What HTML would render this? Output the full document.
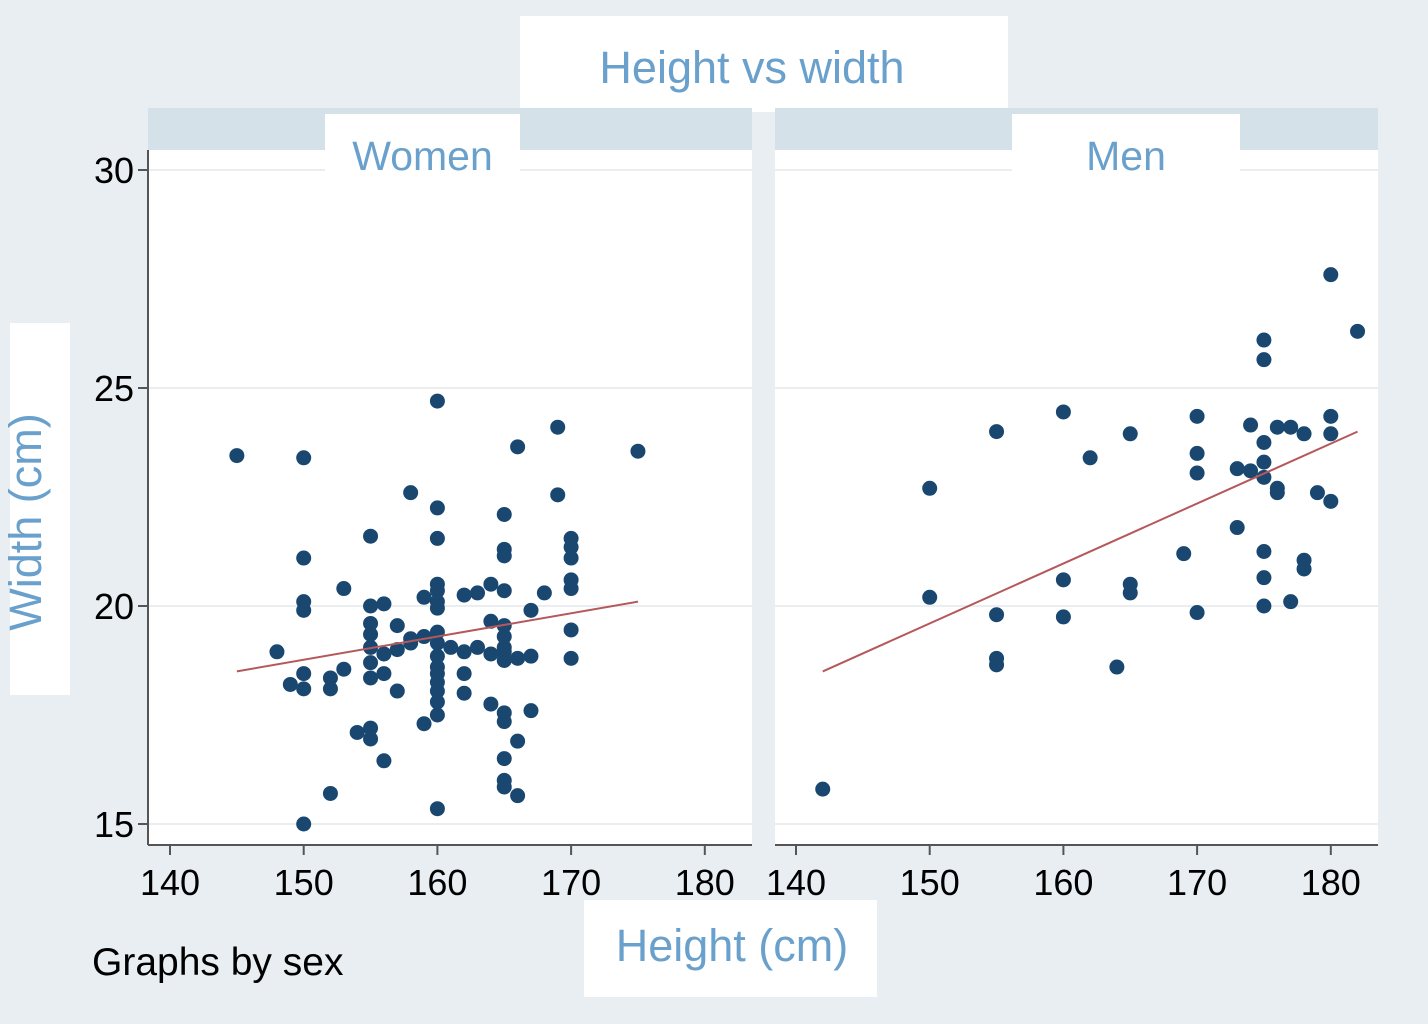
<!DOCTYPE html>
<html><head><meta charset="utf-8"><style>
body{margin:0;background:#e8eef2;}
svg{display:block;font-family:"Liberation Sans",sans-serif;}
</style></head><body>
<svg id="chart" width="1428" height="1024">
<rect x="0" y="0" width="1428" height="1024" fill="#e8eef2"/>
<rect x="520" y="16" width="488" height="96" fill="#fff"/>
<text x="752" y="83" font-size="45" fill="#6aa0cc" text-anchor="middle">Height vs width</text>
<rect x="10" y="323" width="60" height="372" fill="#fff"/>
<text transform="translate(41,522) rotate(-90)" font-size="45" fill="#6aa0cc" text-anchor="middle">Width (cm)</text>
<rect x="584" y="900" width="293" height="97" fill="#fff"/>
<text x="732" y="961" font-size="45" fill="#6aa0cc" text-anchor="middle">Height (cm)</text>
<text x="92" y="975" font-size="39" fill="#000">Graphs by sex</text>
<g id="panels"></g>
</svg>
<script>
const yTicks=[15,20,25,30];
const xTicks=[140,150,160,170,180];
const womenX=[145,150,160,169,166,175,158,169,160,165,155,160,165,165,170,170,170,150,153,160,160,164,165,168,170,170,150,150,155,156,159,160,160,162,163,167,164,165,165,165,170,155,155,155,157,158,159,160,160,156,155,157,158,161,162,163,164,165,165,166,167,170,160,160,160,160,148,150,150,149,152,152,153,155,156,157,160,160,162,162,160,159,164,165,165,167,154,155,155,166,156,165,165,165,166,152,160,150];
const womenY=[23.45,23.4,24.7,24.1,23.65,23.55,22.6,22.55,22.25,22.1,21.6,21.55,21.3,21.15,21.55,21.35,21.1,21.1,20.4,20.5,20.35,20.5,20.35,20.3,20.6,20.4,20.1,19.9,20.0,20.05,20.2,20.1,19.95,20.25,20.3,19.9,19.65,19.55,19.3,19.05,19.45,19.6,19.35,19.05,19.55,19.25,19.3,19.4,19.15,18.9,18.7,19.0,19.15,19.05,18.95,19.05,18.9,18.95,18.75,18.8,18.85,18.8,18.85,18.6,18.45,18.25,18.95,18.45,18.1,18.2,18.35,18.1,18.55,18.35,18.45,18.05,18.05,17.8,18.45,18.0,17.5,17.3,17.75,17.55,17.35,17.6,17.1,17.2,16.95,16.9,16.45,16.5,16.0,15.85,15.65,15.7,15.35,15.0];
const menX=[142,150,150,155,155,155,155,160,160,160,162,164,165,165,165,169,170,170,170,170,173,173,174,174,175,175,175,175,175,175,175,175,176,176,176,177,177,178,178,178,179,180,180,180,180,182];
const menY=[15.8,22.7,20.2,24.0,19.8,18.8,18.65,24.45,20.6,19.75,23.4,18.6,23.95,20.5,20.3,21.2,24.35,23.5,23.05,19.85,21.8,23.15,24.15,23.1,26.1,25.65,23.75,23.3,22.95,21.25,20.65,20.0,24.1,22.7,22.6,24.1,20.1,23.95,21.05,20.85,22.6,27.6,24.35,23.95,22.4,26.3];
const womenFitX=[145,175], womenFitY=[18.5,20.1];
const menFitX=[142,182], menFitY=[18.5,24.0];
const NS="http://www.w3.org/2000/svg";
const g=document.getElementById('panels');
function el(t,a,p){const e=document.createElementNS(NS,t);for(const k in a)e.setAttribute(k,a[k]);(p||g).appendChild(e);return e;}
const yScale=v=>170+(30-v)*43.6;
function panel(name,left,right,x140,label,labelBox,xs,ys,fx,fy){
  const xScale=v=>x140+(v-140)*13.37;
  const grp=el('g',{});
  
  
  const strip=el('rect',{x:left,y:108,width:right-left,height:42,fill:'#d5e1e9'},grp);
  
  
  const bg=el('rect',{x:left,y:150,width:right-left,height:695,fill:'#fff'},grp);
  
  
  yTicks.forEach(t=>{
    const gl=el('line',{x1:left,x2:right,y1:yScale(t),y2:yScale(t),stroke:'#eaeef1','stroke-width':2},grp);
    
    
  });
  const lb=el('rect',{x:labelBox[0],y:114,width:labelBox[1],height:60,fill:'#fff'},grp);
  
  
  const lt=el('text',{x:labelBox[0]+labelBox[1]/2,y:170,'font-size':41,fill:'#6aa0cc','text-anchor':'middle'},grp);
  lt.textContent=label;
  
  
  const ax=el('line',{x1:left,x2:right,y1:845,y2:845,stroke:'#555','stroke-width':2},grp);
  
  
  xTicks.forEach(t=>{
    const tk=el('line',{x1:xScale(t),x2:xScale(t),y1:845,y2:855,stroke:'#555','stroke-width':2},grp);
    
    
    const tl=el('text',{x:xScale(t),y:895,'font-size':36,fill:'#000','text-anchor':'middle'},grp);
    tl.textContent=t;
    
    
  });
  xs.forEach((v,i)=>{
    const c=el('circle',{cx:xScale(v),cy:yScale(ys[i]),r:7.5,fill:'#1a476f'},grp);
    
    
  });
  const fl=el('line',{x1:xScale(fx[0]),y1:yScale(fy[0]),x2:xScale(fx[1]),y2:yScale(fy[1]),stroke:'#b5585b','stroke-width':2},grp);
  
  
}
panel('women',148,752,170,'Women',[325,195],womenX,womenY,womenFitX,womenFitY);
panel('men',775,1378,796,'Men',[1012,228],menX,menY,menFitX,menFitY);
const ya=el('line',{x1:148,x2:148,y1:150,y2:845,stroke:'#555','stroke-width':2});


yTicks.forEach(t=>{
  const tk=el('line',{x1:138,x2:148,y1:yScale(t),y2:yScale(t),stroke:'#555','stroke-width':2});
  
  
  const tl=el('text',{x:134,y:yScale(t)+13,'font-size':36,fill:'#000','text-anchor':'end'});
  tl.textContent=t;
  
  
});
</script>
</body></html>
